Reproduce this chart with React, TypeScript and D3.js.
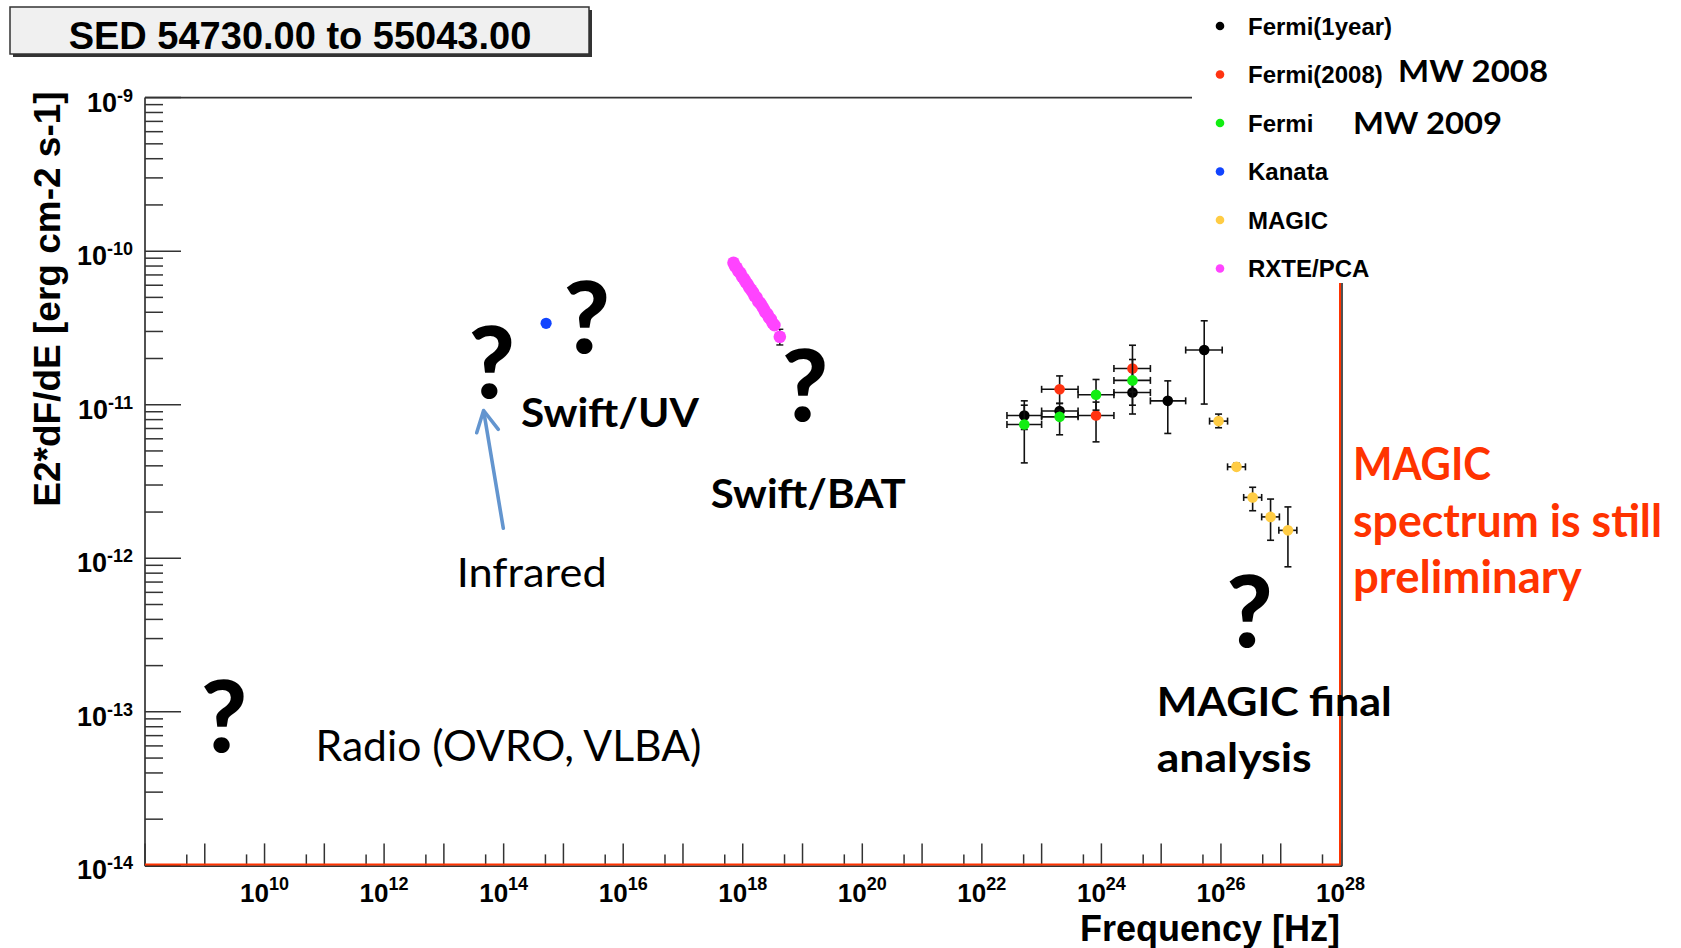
import React from "react";
import * as d3 from "d3";

// ---- data ----
const fermi1yFreq = [5.13e22, 2.0e23, 3.31e24, 1.29e25, 5.25e25];
const fermi1yFreqLo = [2.63e22, 1.0e23, 1.62e24, 6.6e24, 2.57e25];
const fermi1yFreqHi = [1.0e23, 4.07e23, 6.6e24, 2.57e25, 1.05e26];
const fermi1yFlux = [8.5e-12, 9.1e-12, 1.2e-11, 1.06e-11, 2.27e-11];
const fermi1yFluxLo = [6.9e-12, 8.0e-12, 8.7e-12, 6.5e-12, 1.01e-11];
const fermi1yFluxHi = [1.06e-11, 1.02e-11, 1.64e-11, 1.43e-11, 3.52e-11];

const fermi2008Freq = [2.0e23, 8.13e23, 3.31e24];
const fermi2008FreqLo = [1.0e23, 4.07e23, 1.62e24];
const fermi2008FreqHi = [4.07e23, 1.62e24, 6.6e24];
const fermi2008Flux = [1.26e-11, 8.5e-12, 1.72e-11];
const fermi2008FluxLo = [1.02e-11, 5.73e-12, 1.21e-11];
const fermi2008FluxHi = [1.54e-11, 1.04e-11, 2.44e-11];

const fermi2009Freq = [5.13e22, 2.0e23, 8.13e23, 3.31e24];
const fermi2009FreqLo = [2.63e22, 1.0e23, 4.07e23, 1.62e24];
const fermi2009FreqHi = [1.0e23, 4.07e23, 1.62e24, 6.6e24];
const fermi2009Flux = [7.44e-12, 8.34e-12, 1.16e-11, 1.44e-11];
const fermi2009FluxLo = [4.18e-12, 6.37e-12, 9.22e-12, 9.93e-12];
const fermi2009FluxHi = [9.93e-12, 9.22e-12, 1.46e-11, 1.97e-11];

const kanataFreq = [5.13e14];
const kanataFlux = [3.39e-11];

const magicFreq = [9.12e25, 1.82e26, 3.39e26, 6.76e26, 1.32e27];
const magicFreqLo = [6.45e25, 1.29e26, 2.4e26, 4.8e26, 9.3e26];
const magicFreqHi = [1.29e26, 2.57e26, 4.8e26, 9.5e26, 1.86e27];
const magicFlux = [7.82e-12, 3.94e-12, 2.49e-12, 1.86e-12, 1.52e-12];
const magicFluxLo = [7.08e-12, 3.75e-12, 2.04e-12, 1.31e-12, 8.8e-13];
const magicFluxHi = [8.69e-12, 4.15e-12, 2.9e-12, 2.43e-12, 2.16e-12];

const rxteFreq = [
  7.0e17, 7.4e17, 7.9e17, 8.5e17, 9.1e17, 9.8e17, 1.05e18, 1.12e18, 1.2e18,
  1.29e18, 1.38e18, 1.48e18, 1.58e18, 1.7e18, 1.82e18, 1.95e18, 2.09e18,
  2.24e18, 2.4e18, 2.57e18, 2.75e18, 2.95e18, 3.16e18, 3.39e18, 4.17e18,
];
const rxteFlux = [
  8.4e-11, 8.0e-11, 7.8e-11, 7.4e-11, 7.2e-11, 6.8e-11, 6.6e-11, 6.3e-11,
  6.1e-11, 5.8e-11, 5.6e-11, 5.4e-11, 5.1e-11, 5.0e-11, 4.7e-11, 4.6e-11,
  4.4e-11, 4.2e-11, 4.0e-11, 3.9e-11, 3.7e-11, 3.6e-11, 3.4e-11, 3.3e-11,
  2.77e-11,
];
const rxteLastFluxLo = 2.45e-11;
const rxteLastFluxHi = 3.1e-11;

const legendNames = ["Fermi(1year)", "Fermi(2008)", "Fermi", "Kanata", "MAGIC", "RXTE/PCA"];
const legendColors = ["#000000", "#ff3311", "#11ee11", "#1144ff", "#ffcc44", "#ff44ff"];

const xTickExps = d3.range(8, 29); // 1e8 .. 1e28
const xLabelExps = [10, 12, 14, 16, 18, 20, 22, 24, 26, 28];
const yTickExps = [-14, -13, -12, -11, -10, -9];

const W = 1681;
const H = 948;
const X0 = 145;
const X1 = 1340.5;
const Y0 = 865.4;
const Y1 = 97.6;

const x = d3.scaleLog().domain([1e8, 1e28]).range([X0, X1]);
const y = d3.scaleLog().domain([1e-14, 1e-9]).range([Y0, Y1]);

const rootFont = "'Liberation Sans', Arial, sans-serif";
const pptFont = "Lato, 'Open Sans', sans-serif";
const red = "#ff3300";
const axisColor = "#333333";

function ErrorPoints({ freq, freqLo, freqHi, flux, fluxLo, fluxHi, color, r = 5.3 }) {
  const cap = 3.5;
  return (
    <g>
      {freq.map((f, i) => {
        const cx = x(f);
        const cy = y(flux[i]);
        return (
          <g key={i} stroke="#111" strokeWidth={1.6}>
            {freqLo && (
              <>
                <line x1={x(freqLo[i])} x2={x(freqHi[i])} y1={cy} y2={cy} />
                <line x1={x(freqLo[i])} x2={x(freqLo[i])} y1={cy - cap} y2={cy + cap} />
                <line x1={x(freqHi[i])} x2={x(freqHi[i])} y1={cy - cap} y2={cy + cap} />
              </>
            )}
            {fluxLo && (
              <>
                <line x1={cx} x2={cx} y1={y(fluxLo[i])} y2={y(fluxHi[i])} />
                <line x1={cx - cap} x2={cx + cap} y1={y(fluxLo[i])} y2={y(fluxLo[i])} />
                <line x1={cx - cap} x2={cx + cap} y1={y(fluxHi[i])} y2={y(fluxHi[i])} />
              </>
            )}
          </g>
        );
      })}
      {freq.map((f, i) => (
        <circle key={"m" + i} cx={x(f)} cy={y(flux[i])} r={r} fill={color} />
      ))}
    </g>
  );
}

function Question({ cx, base }) {
  return (
    <text x={cx} y={base} textAnchor="middle" fontFamily={pptFont} fontWeight="900" fontSize={100} fill="#000">
      ?
    </text>
  );
}

export default function App() {
  const minorY: number[] = [];
  yTickExps.slice(0, -1).forEach((e) => {
    for (let k = 2; k <= 9; k++) minorY.push(k * Math.pow(10, e));
  });
  const minorX = xTickExps.slice(0, -1).map((e) => 5 * Math.pow(10, e));
  const lastRxte = rxteFreq.length - 1;

  return (
    <svg width={W} height={H} style={{ position: "absolute", left: 0, top: 0, background: "#fff" }}>
      <rect width={W} height={H} fill="#fff" />

      {/* frame */}
      <g stroke={axisColor} strokeWidth={1.7} fill="none">
        <line x1={X0} x2={1342} y1={Y1} y2={Y1} />
        <line x1={1342} x2={1342} y1={Y1} y2={866.2} />
        <line x1={X0} x2={X0} y1={Y1} y2={866.2} />
        <line x1={X0} x2={1342} y1={866.2} y2={866.2} />
      </g>

      {/* y ticks */}
      <g stroke={axisColor} strokeWidth={1.5}>
        {yTickExps.map((e) => (
          <line key={e} x1={X0} x2={X0 + 36} y1={y(Math.pow(10, e))} y2={y(Math.pow(10, e))} />
        ))}
        {minorY.map((v, i) => (
          <line key={i} x1={X0} x2={X0 + 18} y1={y(v)} y2={y(v)} />
        ))}
      </g>
      {/* x ticks */}
      <g stroke={axisColor} strokeWidth={1.5}>
        {xTickExps.map((e) => (
          <line key={e} x1={x(Math.pow(10, e))} x2={x(Math.pow(10, e))} y1={Y0} y2={Y0 - 22} />
        ))}
        {minorX.map((v, i) => (
          <line key={i} x1={x(v)} x2={x(v)} y1={Y0} y2={Y0 - 11} />
        ))}
      </g>

      {/* red overlay lines */}
      <line x1={X0} x2={X1} y1={864.6} y2={864.6} stroke={red} strokeWidth={2} />
      <line x1={1340} x2={1340} y1={283} y2={865} stroke={red} strokeWidth={2} />

      {/* tick labels */}
      <g fontFamily={rootFont} fontWeight="bold" fill="#000">
        {xLabelExps.map((e) => (
          <text key={e} x={x(Math.pow(10, e))} y={902} textAnchor="middle" fontSize={26}>
            10<tspan dy={-12} fontSize={18}>{e}</tspan>
          </text>
        ))}
        {yTickExps.map((e) => (
          <text key={e} x={133} y={y(Math.pow(10, e)) + 14} textAnchor="end" fontSize={27}>
            10<tspan dy={-10} fontSize={18}>{e}</tspan>
          </text>
        ))}
      </g>

      {/* axis titles */}
      <text x={1340} y={941} textAnchor="end" fontFamily={rootFont} fontWeight="bold" fontSize={36}>
        Frequency [Hz]
      </text>
      <text
        transform="translate(60,299) rotate(-90)"
        textAnchor="middle"
        fontFamily={rootFont}
        fontWeight="bold"
        fontSize={37}
      >
        E2*dF/dE [erg cm-2 s-1]
      </text>

      {/* data */}
      <ErrorPoints freq={fermi1yFreq} freqLo={fermi1yFreqLo} freqHi={fermi1yFreqHi} flux={fermi1yFlux} fluxLo={fermi1yFluxLo} fluxHi={fermi1yFluxHi} color={legendColors[0]} />
      <ErrorPoints freq={fermi2008Freq} freqLo={fermi2008FreqLo} freqHi={fermi2008FreqHi} flux={fermi2008Flux} fluxLo={fermi2008FluxLo} fluxHi={fermi2008FluxHi} color={legendColors[1]} />
      <ErrorPoints freq={fermi2009Freq} freqLo={fermi2009FreqLo} freqHi={fermi2009FreqHi} flux={fermi2009Flux} fluxLo={fermi2009FluxLo} fluxHi={fermi2009FluxHi} color={legendColors[2]} />
      <ErrorPoints freq={kanataFreq} flux={kanataFlux} color={legendColors[3]} r={5.6} />
      <ErrorPoints freq={magicFreq} freqLo={magicFreqLo} freqHi={magicFreqHi} flux={magicFlux} fluxLo={magicFluxLo} fluxHi={magicFluxHi} color={legendColors[4]} />
      <g stroke="#111" strokeWidth={1.4}>
        <line x1={x(rxteFreq[lastRxte])} x2={x(rxteFreq[lastRxte])} y1={y(rxteLastFluxLo)} y2={y(rxteLastFluxHi)} />
        <line x1={x(rxteFreq[lastRxte]) - 3.5} x2={x(rxteFreq[lastRxte]) + 3.5} y1={y(rxteLastFluxLo)} y2={y(rxteLastFluxLo)} />
        <line x1={x(rxteFreq[lastRxte]) - 3.5} x2={x(rxteFreq[lastRxte]) + 3.5} y1={y(rxteLastFluxHi)} y2={y(rxteLastFluxHi)} />
      </g>
      {rxteFreq.map((f, i) => (
        <circle key={i} cx={x(f)} cy={y(rxteFlux[i])} r={6.3} fill={legendColors[5]} />
      ))}

      {/* legend */}
      <rect x={1192} y={0} width={489} height={283} fill="#fff" />
      {legendNames.map((n, i) => (
        <g key={n}>
          <circle cx={1220} cy={26 + i * 48.5} r={4.3} fill={legendColors[i]} />
          <text x={1248} y={34.5 + i * 48.5} fontFamily={rootFont} fontWeight="bold" fontSize={24} fill="#000">
            {n}
          </text>
        </g>
      ))}
      <text x={1398} y={82} fontFamily={pptFont} fontWeight="bold" fontSize={31} textLength={150} lengthAdjust="spacingAndGlyphs">MW 2008</text>
      <text x={1353} y={133.5} fontFamily={pptFont} fontWeight="bold" fontSize={31} textLength={149} lengthAdjust="spacingAndGlyphs">MW 2009</text>

      {/* title box */}
      <rect x={13} y={10} width={579} height={47} fill="#333" />
      <rect x={10} y={7} width={579} height={47} fill="#f0f0f0" stroke="#333" strokeWidth={1.5} />
      <text x={300} y={49} textAnchor="middle" fontFamily={rootFont} fontWeight="bold" fontSize={38}>
        SED 54730.00 to 55043.00
      </text>

      {/* annotations */}
      <Question cx={491.7} base={398.3} />
      <Question cx={586.7} base={352.7} />
      <Question cx={805} base={420.7} />
      <Question cx={1249.5} base={647} />
      <Question cx={224} base={752} />

      <g fontFamily={pptFont} fill="#000">
        <text x={521} y={427.3} fontWeight="bold" fontSize={41} textLength={178} lengthAdjust="spacingAndGlyphs">Swift/UV</text>
        <text x={710.7} y={508.3} fontWeight="bold" fontSize={41} textLength={195} lengthAdjust="spacingAndGlyphs">Swift/BAT</text>
        <text x={456.7} y={586.7} fontSize={41} textLength={150} lengthAdjust="spacingAndGlyphs">Infrared</text>
        <text x={315.5} y={761} fontSize={42} textLength={386} lengthAdjust="spacingAndGlyphs">Radio (OVRO, VLBA)</text>
        <text x={1156.7} y={716} fontWeight="bold" fontSize={41} textLength={235} lengthAdjust="spacingAndGlyphs">MAGIC final</text>
        <text x={1156.7} y={772.3} fontWeight="bold" fontSize={41} textLength={155} lengthAdjust="spacingAndGlyphs">analysis</text>
      </g>
      <g fontFamily={pptFont} fill={red} fontWeight="bold" fontSize={45}>
        <text x={1353} y={480} textLength={138} lengthAdjust="spacingAndGlyphs">MAGIC</text>
        <text x={1353} y={536.7} textLength={309} lengthAdjust="spacingAndGlyphs">spectrum is still</text>
        <text x={1353} y={593.3} textLength={228.7} lengthAdjust="spacingAndGlyphs">preliminary</text>
      </g>

      {/* infrared arrow */}
      <g stroke="#6395cf" strokeWidth={3.6} fill="none" strokeLinecap="round" strokeLinejoin="round">
        <line x1={503.3} y1={528.3} x2={484} y2={413} />
        <polyline points="476.7,432.7 483.6,410.5 498.3,429.3" />
      </g>
    </svg>
  );
}
